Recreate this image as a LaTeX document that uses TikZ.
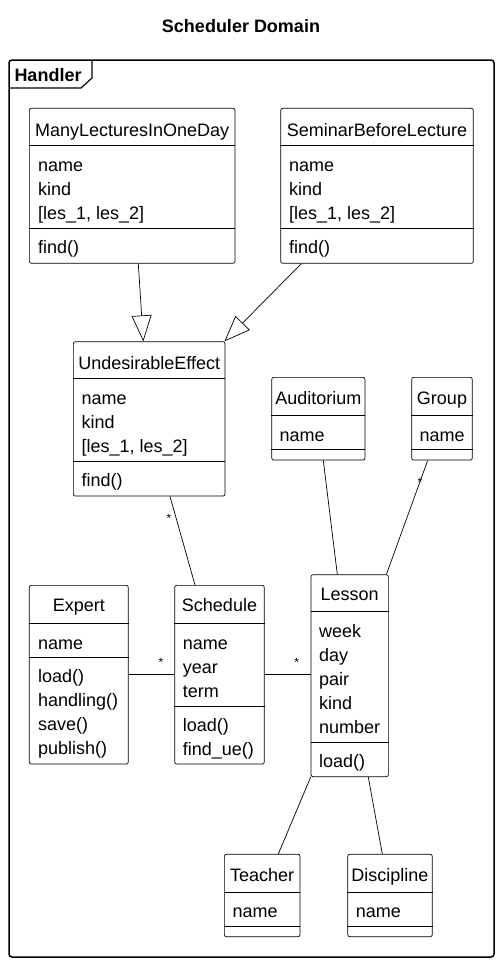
\documentclass[tikz,border=0pt]{standalone}
\usepackage{fontspec}
\setmainfont{Liberation Sans}
\usetikzlibrary{arrows.meta}

\begin{document}
\begin{tikzpicture}[x=1pt,y=-1pt,
  cls/.style={draw,rounded corners=2pt,line width=0.7pt,inner sep=0pt},
  ttl/.style={anchor=base,inner sep=0pt,font=\fontsize{18}{20}\selectfont},
  txt/.style={anchor=base west,inner sep=0pt,font=\fontsize{18}{20}\selectfont},
  mult/.style={inner sep=0pt,font=\fontsize{12}{14}\selectfont},
  gen/.style={line width=0.7pt,-{Triangle[open,length=26pt,width=20pt]}},
  lnk/.style={line width=0.7pt}]
\useasboundingbox (0,0) rectangle (500,964);

% title and package frame
\node[anchor=base,inner sep=0pt,font=\bfseries\fontsize{18}{20}\selectfont] (title) at (241,32.3) {Scheduler Domain};
\draw[line width=1.5pt,rounded corners=3pt] (9,60) rectangle (494,957);
\draw[line width=1.2pt] (9,88) -- (81,88) -- (92,78) -- (92,60);
\node[anchor=base west,inner sep=0pt,font=\bfseries\fontsize{18}{20}\selectfont] (handler) at (14.3,81.7) {Handler};

% ManyLecturesInOneDay
\node[cls,minimum width=205.7pt,minimum height=155pt] (mlod) at (132.2,185.8) {};
\draw[lnk] (mlod.west |- 0,145) -- (mlod.east |- 0,145);
\draw[lnk] (mlod.west |- 0,228.3) -- (mlod.east |- 0,228.3);
\node[ttl] (mlod-t) at (mlod.north |- 0,136) {ManyLecturesInOneDay};
\foreach \a [count=\i from 0] in {name,kind,{[les\_1, les\_2]}}
  \node[txt] (mlod-a\i) at (38,{171+24*\i}) {\a};
\node[txt] (mlod-m) at (38,253) {find()};

% SeminarBeforeLecture
\node[cls,minimum width=192.6pt,minimum height=155pt] (sem) at (377,185.8) {};
\draw[lnk] (sem.west |- 0,145) -- (sem.east |- 0,145);
\draw[lnk] (sem.west |- 0,228.3) -- (sem.east |- 0,228.3);
\node[ttl] (sem-t) at (sem.north |- 0,136) {SeminarBeforeLecture};
\foreach \a [count=\i from 0] in {name,kind,{[les\_1, les\_2]}}
  \node[txt] (sem-a\i) at (289,{171+24*\i}) {\a};
\node[txt] (sem-m) at (289,253) {find()};

% UndesirableEffect
\node[cls,minimum width=151.7pt,minimum height=154.3pt] (ue) at (149.2,418.9) {};
\draw[lnk] (ue.west |- 0,378.3) -- (ue.east |- 0,378.3);
\draw[lnk] (ue.west |- 0,461) -- (ue.east |- 0,461);
\node[ttl] (ue-t) at (ue.north |- 0,369) {UndesirableEffect};
\foreach \a [count=\i from 0] in {name,kind,{[les\_1, les\_2]}}
  \node[txt] (ue-a\i) at (81.5,{404.3+24*\i}) {\a};
\node[txt] (ue-m) at (81.5,486) {find()};

% Auditorium, Group
\node[cls,minimum width=93.3pt,minimum height=82.7pt] (aud) at (318.4,418.7) {};
\draw[lnk] (aud.west |- 0,415) -- (aud.east |- 0,415);
\draw[lnk] (aud.west |- 0,449.3) -- (aud.east |- 0,449.3);
\node[ttl] (aud-t) at (aud.north |- 0,404) {Auditorium};
\node[txt] (aud-a) at (279.5,441) {name};

\node[cls,minimum width=60.6pt,minimum height=82.7pt] (grp) at (442,418.7) {};
\draw[lnk] (grp.west |- 0,415) -- (grp.east |- 0,415);
\draw[lnk] (grp.west |- 0,449.3) -- (grp.east |- 0,449.3);
\node[ttl] (grp-t) at (grp.north |- 0,404) {Group};
\node[txt] (grp-a) at (419.5,441) {name};

% Expert
\node[cls,minimum width=99pt,minimum height=178.7pt] (exp) at (78.8,674.7) {};
\draw[lnk] (exp.west |- 0,623.3) -- (exp.east |- 0,623.3);
\draw[lnk] (exp.west |- 0,657.3) -- (exp.east |- 0,657.3);
\node[ttl] (exp-t) at (exp.north |- 0,611.7) {Expert};
\node[txt] (exp-a) at (38,649) {name};
\foreach \m [count=\i from 0] in {load(),handling(),save(),publish()}
  \node[txt] (exp-m\i) at (38,{682.3+24*\i}) {\m};

% Schedule
\node[cls,minimum width=89.6pt,minimum height=178.7pt] (sch) at (219.5,674.7) {};
\draw[lnk] (sch.west |- 0,623.3) -- (sch.east |- 0,623.3);
\draw[lnk] (sch.west |- 0,706) -- (sch.east |- 0,706);
\node[ttl] (sch-t) at (sch.north |- 0,611.7) {Schedule};
\foreach \a [count=\i from 0] in {name,year,term}
  \node[txt] (sch-a\i) at (182.7,{649+24*\i}) {\a};
\foreach \m [count=\i from 0] in {load(),find\_ue()}
  \node[txt] (sch-m\i) at (182.7,{731+24*\i}) {\m};

% Lesson
\node[cls,minimum width=77.3pt,minimum height=202pt] (les) at (349.7,675.7) {};
\draw[lnk] (les.west |- 0,611.7) -- (les.east |- 0,611.7);
\draw[lnk] (les.west |- 0,742.7) -- (les.east |- 0,742.7);
\node[ttl] (les-t) at (les.north |- 0,600.7) {Lesson};
\foreach \a [count=\i from 0] in {week,day,pair,kind,number}
  \node[txt] (les-a\i) at (319,{637.7+24*\i}) {\a};
\node[txt] (les-m) at (319,767.7) {load()};

% Teacher, Discipline
\node[cls,minimum width=75.7pt,minimum height=82.4pt] (tea) at (262.2,895.5) {};
\draw[lnk] (tea.west |- 0,892.3) -- (tea.east |- 0,892.3);
\draw[lnk] (tea.west |- 0,926) -- (tea.east |- 0,926);
\node[ttl] (tea-t) at (tea.north |- 0,881.7) {Teacher};
\node[txt] (tea-a) at (232.3,917.5) {name};

\node[cls,minimum width=84.6pt,minimum height=82.4pt] (dis) at (390,895.5) {};
\draw[lnk] (dis.west |- 0,892.3) -- (dis.east |- 0,892.3);
\draw[lnk] (dis.west |- 0,926) -- (dis.east |- 0,926);
\node[ttl] (dis-t) at (dis.north |- 0,881.7) {Discipline};
\node[txt] (dis-a) at (355.7,917.5) {name};

% relations
\draw[gen] ([xshift=6.1pt]mlod.south) -- ([xshift=-5.9pt]ue.north);
\draw[gen] ([xshift=21pt]sem.south west) -- ([xshift=-1pt]ue.north east);
\draw[lnk] ([xshift=20.8pt]ue.south) -- ([xshift=-24.5pt]sch.north);
\draw[lnk] ([xshift=4.9pt]aud.south) -- ([xshift=-12.4pt]les.north);
\draw[lnk] ([xshift=-14.3pt]grp.south) -- ([xshift=-2.3pt]les.north east);
\draw[lnk] (exp.east) -- (sch.west);
\draw[lnk] (sch.east) -- (les.west |- sch.east);
\draw[lnk] (les.south west) -- ([xshift=16.1pt]tea.north);
\draw[lnk] ([xshift=18.6pt]les.south) -- ([xshift=-7.7pt]dis.north);

% multiplicities
\node[mult] (m-ue) at (169,518) {*};
\node[mult] (m-grp) at (420,482) {*};
\node[mult] (m-exp) at (161,662) {*};
\node[mult] (m-les) at (296.7,662) {*};
\end{tikzpicture}
\end{document}
